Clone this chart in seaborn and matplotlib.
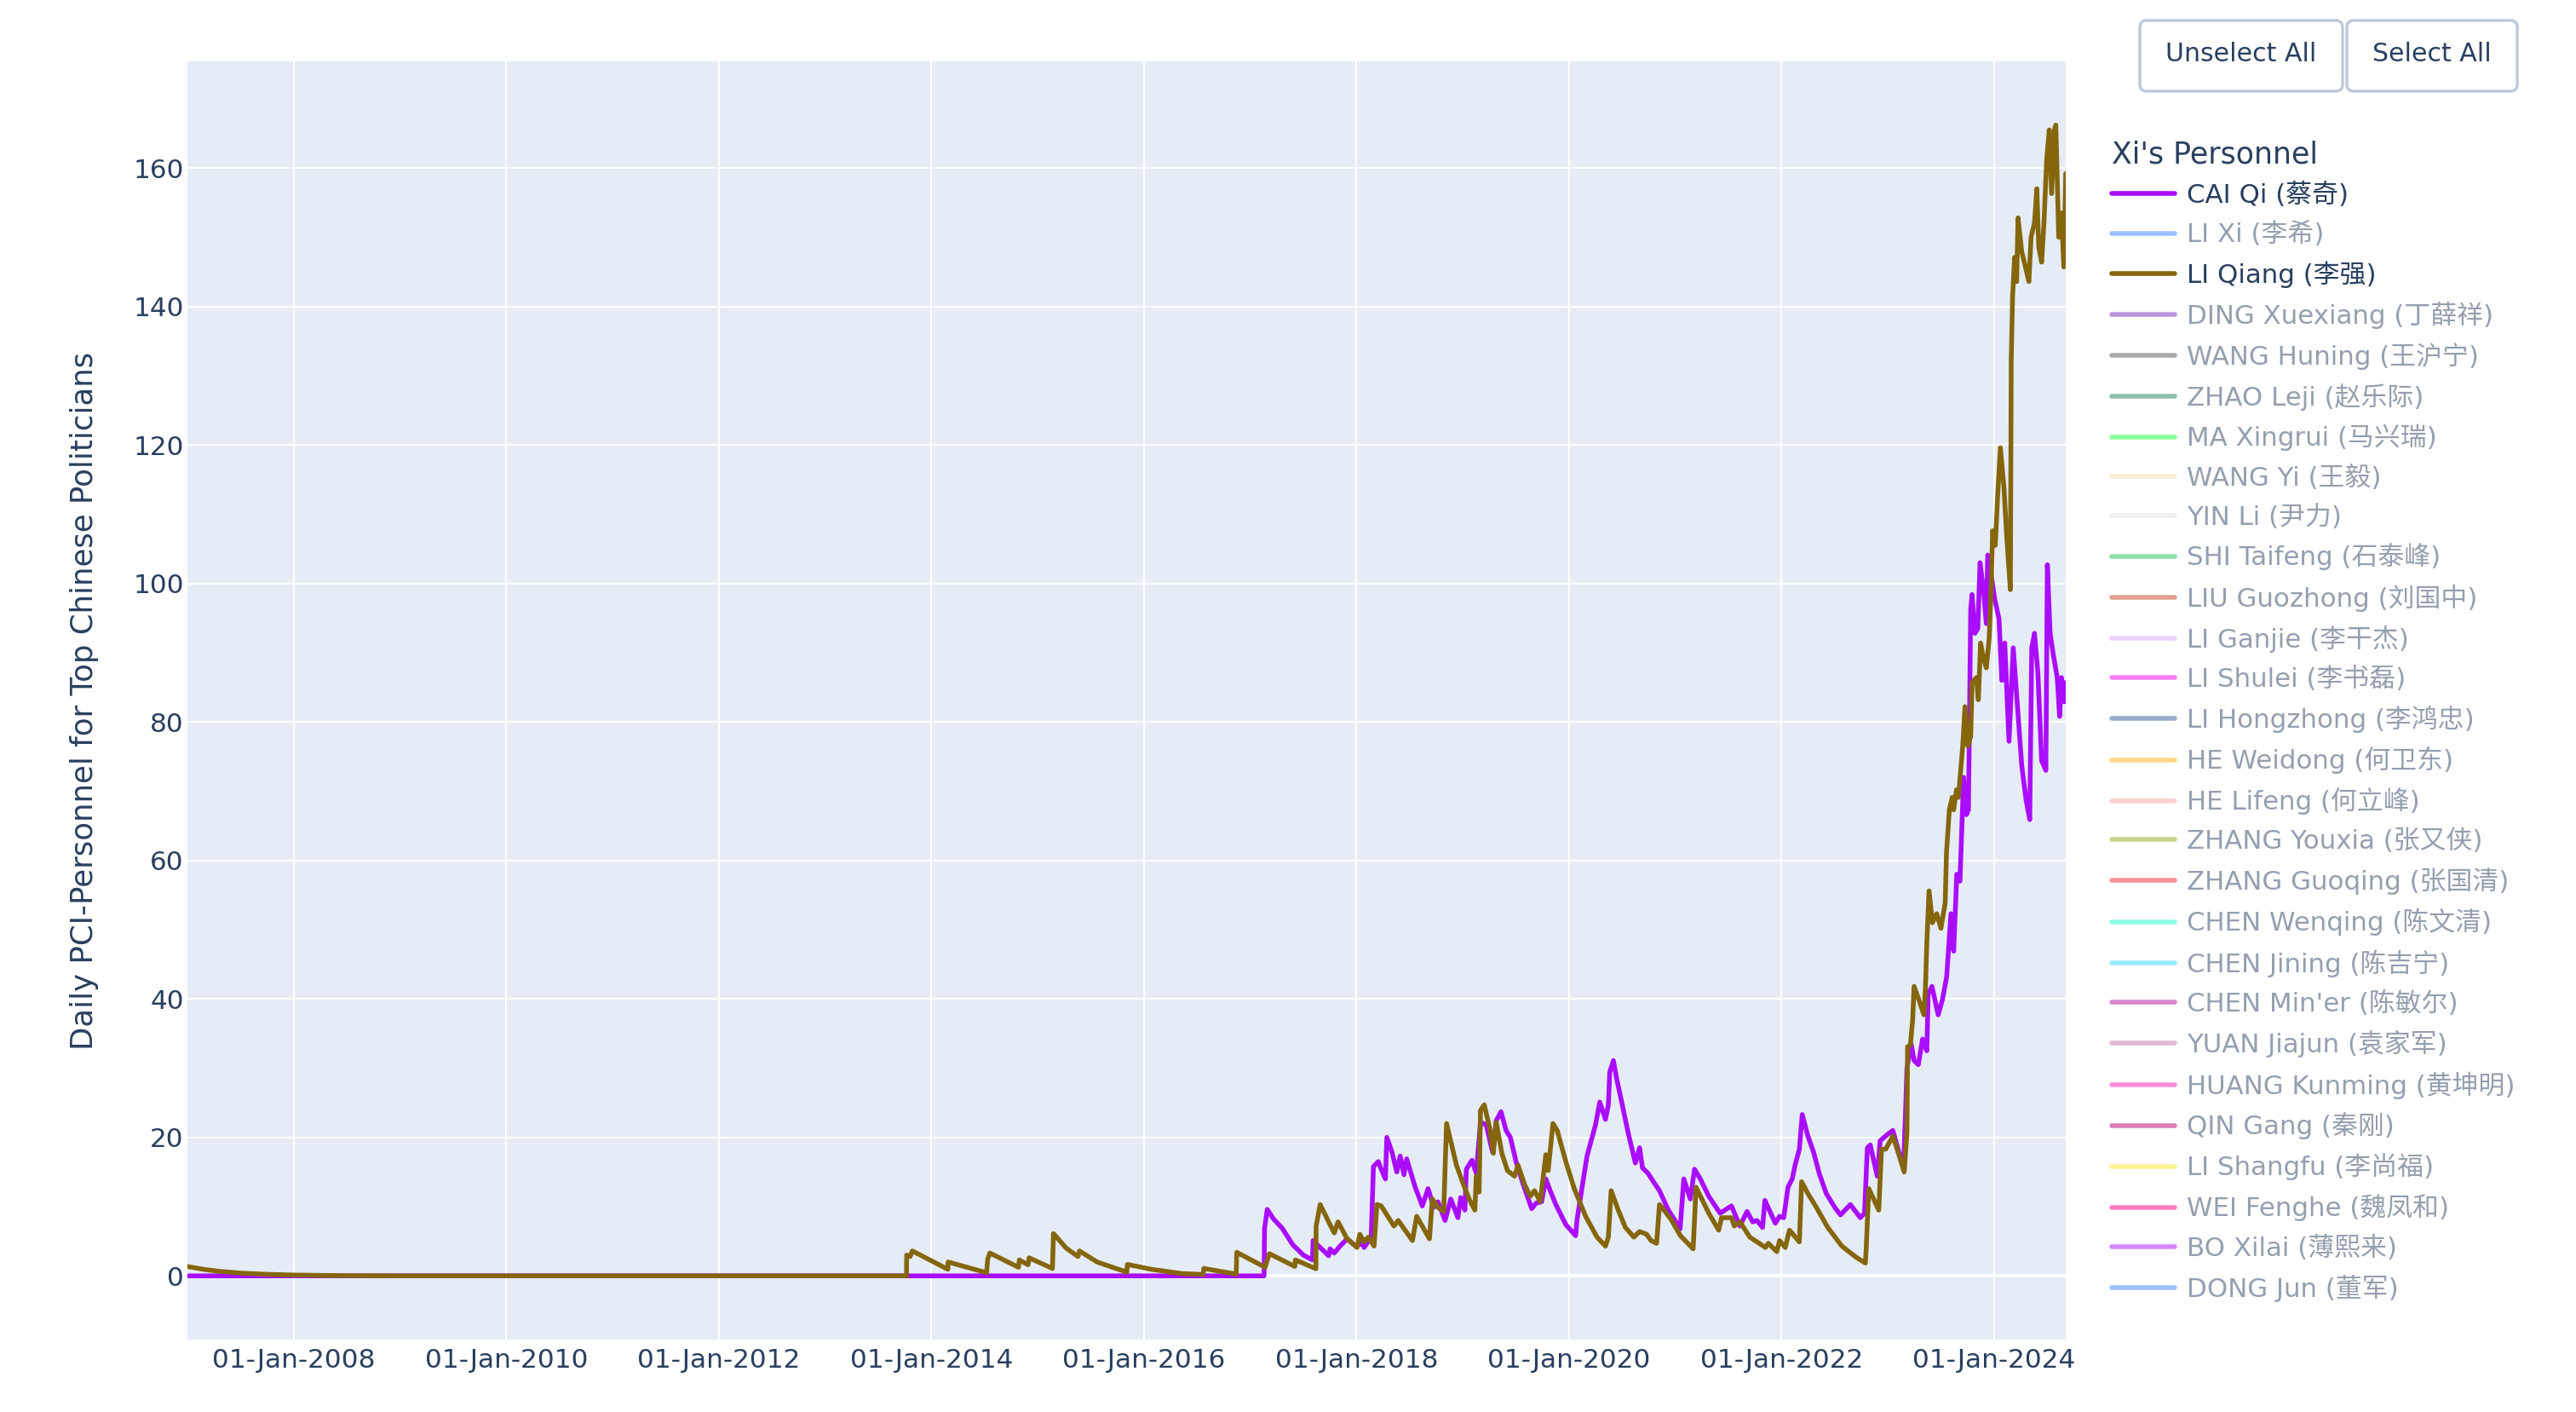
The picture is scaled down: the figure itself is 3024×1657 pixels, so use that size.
import pandas as pd
import matplotlib.pyplot as plt
import matplotlib.dates as mdates
import matplotlib.transforms as mtransforms
import seaborn as sns
from matplotlib.lines import Line2D
from matplotlib.patches import FancyBboxPatch

# legend entries (trace order of the original chart)
names = [
    "CAI Qi (蔡奇)", "LI Xi (李希)", "LI Qiang (李强)", "DING Xuexiang (丁薛祥)",
    "WANG Huning (王沪宁)", "ZHAO Leji (赵乐际)", "MA Xingrui (马兴瑞)", "WANG Yi (王毅)",
    "YIN Li (尹力)", "SHI Taifeng (石泰峰)", "LIU Guozhong (刘国中)", "LI Ganjie (李干杰)",
    "LI Shulei (李书磊)", "LI Hongzhong (李鸿忠)", "HE Weidong (何卫东)", "HE Lifeng (何立峰)",
    "ZHANG Youxia (张又侠)", "ZHANG Guoqing (张国清)", "CHEN Wenqing (陈文清)", "CHEN Jining (陈吉宁)",
    "CHEN Min'er (陈敏尔)", "YUAN Jiajun (袁家军)", "HUANG Kunming (黄坤明)", "QIN Gang (秦刚)",
    "LI Shangfu (李尚福)", "WEI Fenghe (魏凤和)", "BO Xilai (薄熙来)", "DONG Jun (董军)",
]
colors = [
    "#AA0DFE", "#3283FE", "#85660D", "#782AB6", "#565656", "#1C8356", "#16FF32", "#F7E1A0",
    "#E2E2E2", "#1CBE4F", "#C4451C", "#DEA0FD", "#FE00FA", "#325A9B", "#FEAF16", "#F8A19F",
    "#90AD1C", "#F6222E", "#1CFFCE", "#2ED9FF", "#B10DA1", "#C075A6", "#FC1CBF", "#B00068",
    "#FBE426", "#FA0087", "#AA0DFE", "#3283FE",
]
shown = ["CAI Qi (蔡奇)", "LI Qiang (李强)"]

# values, x as decimal years
cai_qi_years = [
    2007.0, 2017.13, 2017.135, 2017.16, 2017.22, 2017.30, 2017.40, 2017.50, 2017.586, 2017.591,
    2017.738, 2017.751, 2017.791, 2017.845, 2017.912, 2017.992, 2018.059, 2018.072, 2018.139, 2018.16,
    2018.206, 2018.233, 2018.273, 2018.286, 2018.334, 2018.38, 2018.412, 2018.447, 2018.473, 2018.553,
    2018.62, 2018.674, 2018.727, 2018.767, 2018.834, 2018.888, 2018.955, 2018.981, 2019.021, 2019.035,
    2019.088, 2019.128, 2019.168, 2019.222, 2019.281, 2019.316, 2019.361, 2019.409, 2019.449, 2019.503,
    2019.57, 2019.65, 2019.69, 2019.743, 2019.783, 2019.824, 2019.877, 2019.971, 2020.064, 2020.078,
    2020.171, 2020.251, 2020.291, 2020.345, 2020.372, 2020.385, 2020.419, 2020.451, 2020.492, 2020.559,
    2020.626, 2020.666, 2020.693, 2020.746, 2020.813, 2020.853, 2020.933, 2021.045, 2021.08, 2021.141,
    2021.181, 2021.235, 2021.315, 2021.421, 2021.528, 2021.608, 2021.675, 2021.728, 2021.768, 2021.821,
    2021.843, 2021.941, 2021.981, 2022.021, 2022.061, 2022.101, 2022.128, 2022.168, 2022.195, 2022.248,
    2022.301, 2022.355, 2022.421, 2022.501, 2022.555, 2022.648, 2022.741, 2022.781, 2022.808, 2022.835,
    2022.901, 2022.928, 2022.995, 2023.048, 2023.101, 2023.149, 2023.168, 2023.181, 2023.221, 2023.248,
    2023.288, 2023.328, 2023.368, 2023.381, 2023.416, 2023.475, 2023.515, 2023.555, 2023.595, 2023.621,
    2023.65, 2023.68, 2023.714, 2023.741, 2023.76, 2023.781, 2023.794, 2023.821, 2023.848, 2023.869,
    2023.901, 2023.928, 2023.941, 2023.981, 2024.008, 2024.048, 2024.075, 2024.102, 2024.142, 2024.182,
    2024.222, 2024.262, 2024.302, 2024.337, 2024.356, 2024.382, 2024.414, 2024.449, 2024.489, 2024.503,
    2024.529, 2024.556, 2024.596, 2024.618, 2024.636, 2024.663, 2024.676,
]
cai_qi_values = [
    0, 0, 6.9, 9.6, 8.2, 6.9, 4.5, 3.0, 2.3, 5.1,
    2.9, 3.9, 3.3, 4.3, 5.35, 4.3, 4.7, 4.1, 5.6, 15.8,
    16.5, 15.4, 14.0, 20.0, 17.9, 15.0, 17.3, 14.6, 16.9, 12.8,
    10.1, 12.6, 9.9, 10.7, 8.0, 11.1, 8.4, 11.3, 9.5, 15.4,
    16.7, 14.8, 22.2, 21.8, 17.9, 22.4, 23.7, 21.0, 20.0, 16.5,
    13.2, 9.7, 10.5, 10.7, 14.0, 12.3, 10.3, 7.4, 5.8, 8.2,
    17.3, 21.8, 25.1, 22.6, 24.7, 29.4, 31.1, 28.4, 25.5, 20.6,
    16.3, 18.5, 15.6, 14.8, 13.2, 12.3, 9.6, 6.8, 14.0, 11.1,
    15.4, 14.0, 11.5, 9.05, 10.1, 7.2, 9.3, 7.8, 8.0, 7.0,
    10.9, 7.6, 8.6, 8.4, 12.8, 14.0, 16.0, 18.3, 23.3, 20.2,
    17.9, 14.8, 11.9, 9.9, 8.8, 10.3, 8.4, 9.05, 18.5, 18.9,
    14.4, 19.5, 20.4, 21.0, 18.1, 15.8, 23.7, 30.0, 33.5, 31.1,
    30.5, 34.2, 32.5, 40.7, 41.8, 37.7, 39.9, 43.2, 52.3, 46.9,
    58.0, 57.0, 72.0, 66.6, 67.3, 96.3, 98.4, 92.8, 93.5, 103.0,
    99.1, 94.2, 104.1, 100.5, 97.7, 94.9, 86.0, 91.4, 77.2, 90.7,
    82.2, 73.7, 68.8, 65.9, 90.7, 92.8, 87.1, 74.4, 73.0, 102.7,
    92.8, 90.0, 86.4, 80.8, 86.4, 82.9, 85.7,
]

li_qiang_years = [
    2007.0, 2007.15, 2007.3, 2007.5, 2007.75, 2008.0, 2008.4, 2009.0, 2013.765, 2013.767,
    2013.80, 2013.82, 2014.155, 2014.158, 2014.52, 2014.53, 2014.55, 2014.82, 2014.828, 2014.91,
    2014.92, 2015.14, 2015.15, 2015.27, 2015.38, 2015.395, 2015.56, 2015.84, 2015.845, 2016.07,
    2016.36, 2016.56, 2016.565, 2016.87, 2016.875, 2017.14, 2017.18, 2017.42, 2017.425, 2017.618,
    2017.62, 2017.658, 2017.751, 2017.791, 2017.826, 2017.912, 2018.005, 2018.032, 2018.072, 2018.112,
    2018.166, 2018.193, 2018.233, 2018.353, 2018.393, 2018.527, 2018.567, 2018.687, 2018.714, 2018.767,
    2018.821, 2018.848, 2018.941, 2019.008, 2019.061, 2019.115, 2019.128, 2019.155, 2019.168, 2019.203,
    2019.254, 2019.289, 2019.316, 2019.369, 2019.422, 2019.489, 2019.521, 2019.583, 2019.636, 2019.677,
    2019.73, 2019.757, 2019.783, 2019.805, 2019.85, 2019.89, 2019.971, 2020.051, 2020.158, 2020.265,
    2020.345, 2020.372, 2020.398, 2020.465, 2020.532, 2020.612, 2020.666, 2020.733, 2020.773, 2020.826,
    2020.853, 2020.906, 2020.968, 2021.048, 2021.168, 2021.195, 2021.315, 2021.408, 2021.435, 2021.528,
    2021.555, 2021.608, 2021.701, 2021.848, 2021.875, 2021.955, 2021.981, 2022.035, 2022.075, 2022.168,
    2022.189, 2022.248, 2022.328, 2022.435, 2022.568, 2022.701, 2022.789, 2022.797, 2022.821, 2022.915,
    2022.941, 2022.981, 2023.048, 2023.101, 2023.155, 2023.181, 2023.187, 2023.213, 2023.235, 2023.248,
    2023.288, 2023.341, 2023.355, 2023.368, 2023.389, 2023.421, 2023.461, 2023.501, 2023.541, 2023.553,
    2023.58, 2023.607, 2023.62, 2023.647, 2023.665, 2023.687, 2023.706, 2023.727, 2023.754, 2023.781,
    2023.794, 2023.834, 2023.853, 2023.874, 2023.901, 2023.928, 2023.955, 2023.976, 2023.987, 2024.013,
    2024.035, 2024.061, 2024.094, 2024.12, 2024.155, 2024.163, 2024.176, 2024.195, 2024.214, 2024.227,
    2024.262, 2024.297, 2024.329, 2024.35, 2024.382, 2024.404, 2024.422, 2024.449, 2024.471, 2024.497,
    2024.521, 2024.543, 2024.57, 2024.583, 2024.61, 2024.636, 2024.658, 2024.676,
]
li_qiang_values = [
    1.35, 0.95, 0.65, 0.4, 0.22, 0.12, 0.04, 0.0, 0.0, 3.0,
    2.8, 3.6, 0.95, 2.0, 0.45, 2.4, 3.3, 1.24, 2.3, 1.6,
    2.6, 1.07, 6.1, 4.0, 2.8, 3.6, 2.0, 0.54, 1.65, 0.95,
    0.33, 0.2, 1.07, 0.25, 3.4, 1.24, 3.2, 1.36, 2.3, 1.03,
    7.2, 10.3, 7.4, 6.2, 7.8, 5.35, 4.1, 6.0, 4.9, 5.6,
    4.3, 10.3, 10.1, 7.2, 8.0, 5.1, 8.6, 5.35, 11.1, 9.9,
    9.3, 22.0, 16.0, 13.2, 11.1, 9.5, 14.4, 12.1, 23.9, 24.7,
    21.4, 17.7, 22.2, 17.7, 15.2, 14.4, 16.0, 13.2, 11.5, 12.3,
    10.7, 14.2, 17.5, 15.2, 22.0, 21.0, 16.5, 12.6, 8.6, 5.6,
    4.3, 5.6, 12.3, 9.5, 7.0, 5.6, 6.4, 6.0, 5.1, 4.7,
    10.3, 9.3, 8.0, 5.8, 3.9, 12.8, 9.05, 6.6, 8.4, 8.4,
    7.2, 7.8, 5.6, 4.1, 4.7, 3.5, 5.1, 4.1, 6.6, 4.9,
    13.6, 11.9, 9.9, 7.0, 4.3, 2.7, 1.85, 3.9, 12.6, 9.5,
    18.3, 18.3, 20.2, 17.7, 15.0, 20.6, 33.1, 33.3, 37.0, 41.8,
    40.1, 37.7, 41.6, 48.1, 55.6, 51.0, 52.3, 50.2, 53.9, 61.1,
    67.3, 69.1, 67.3, 70.2, 69.1, 73.0, 76.5, 82.2, 76.5, 77.9,
    85.7, 86.4, 83.2, 91.4, 89.2, 87.8, 92.1, 100.5, 107.6, 105.5,
    112.5, 119.6, 114.0, 106.9, 99.1, 132.3, 141.5, 147.1, 143.6, 152.8,
    147.9, 145.7, 143.6, 150.0, 152.1, 157.0, 148.6, 146.4, 152.1, 161.3,
    165.5, 156.3, 165.5, 166.2, 150.0, 153.5, 145.7, 159.2,
]

text_color = "#2a3f5f"
hidden_color = "#949faf"


def to_date(year):
    start = pd.Timestamp(year=int(year), month=1, day=1)
    return start + pd.Timedelta(days=(year - int(year)) * 365.25)


df = pd.concat(
    [
        pd.DataFrame({"date": [to_date(y) for y in cai_qi_years], "pci": cai_qi_values, "name": names[0]}),
        pd.DataFrame({"date": [to_date(y) for y in li_qiang_years], "pci": li_qiang_values, "name": names[2]}),
    ],
    ignore_index=True,
)

sns.set_style("darkgrid", {"axes.facecolor": "#E5ECF6", "grid.color": "white"})
plt.rcParams["font.family"] = ["DejaVu Sans", "Noto Sans CJK SC"]

fig = plt.figure(figsize=(15.12, 8.285), dpi=200)
ax = fig.add_axes([220 / 3024, 85 / 1657, 2205 / 3024, 1500 / 1657])

ax.axhline(0, color="white", lw=1.5, zorder=1.5)
sns.lineplot(
    data=df, x="date", y="pci", hue="name",
    palette={names[0]: colors[0], names[2]: colors[2]},
    estimator=None, sort=False, lw=2.0, legend=False, ax=ax,
)

ax.set_xlim(to_date(2007.0), df["date"].max())
ax.set_ylim(-9.2, 175.4)
ax.xaxis.set_major_locator(mdates.YearLocator(base=2, month=1, day=1))
ax.xaxis.set_major_formatter(mdates.DateFormatter("%d-%b-%Y"))
ax.set_yticks(range(0, 161, 20))
ax.grid(color="white", lw=0.75)
for s in ax.spines.values():
    s.set_visible(False)
ax.tick_params(axis="both", length=0, labelsize=11.2, labelcolor=text_color)
ax.tick_params(axis="x", pad=3.5)
ax.tick_params(axis="y", pad=1.5)
ax.set_xlabel("")
ax.set_ylabel("Daily PCI-Personnel for Top Chinese Politicians", fontsize=12.8, color=text_color)
ax.yaxis.set_label_coords(-0.047, 0.5)

# legend, hidden traces greyed out like plotly's legendonly
handles = [
    Line2D([], [], color=c, lw=2.0, alpha=1.0 if n in shown else 0.5)
    for n, c in zip(names, colors)
]
leg = ax.legend(
    handles, names, title="Xi's Personnel", loc="upper left",
    bbox_to_anchor=(2479 / 3024, 1 - 164 / 1657), bbox_transform=fig.transFigure,
    frameon=False, fontsize=11.1, title_fontsize=12.5, handlelength=2.4,
    handletextpad=0.45, labelspacing=0.52, borderpad=0, borderaxespad=0, alignment="left",
)
leg.get_title().set_color(text_color)
for t, n in zip(leg.get_texts(), names):
    t.set_color(text_color if n in shown else hidden_color)

# the two buttons above the legend
px = mtransforms.IdentityTransform()
for x0, x1, label in [(2512, 2750, "Unselect All"), (2755, 2955, "Select All")]:
    fig.add_artist(FancyBboxPatch(
        (x0, 1657 - 107), x1 - x0, 83, boxstyle="round,pad=0,rounding_size=8",
        transform=px, facecolor="white", edgecolor="#BEC8D9", lw=1.2,
    ))
    fig.text((x0 + x1) / 2 / 3024, 1 - 63 / 1657, label, ha="center", va="center",
             fontsize=10.8, color=text_color)

fig.savefig("out.png", dpi=200)
